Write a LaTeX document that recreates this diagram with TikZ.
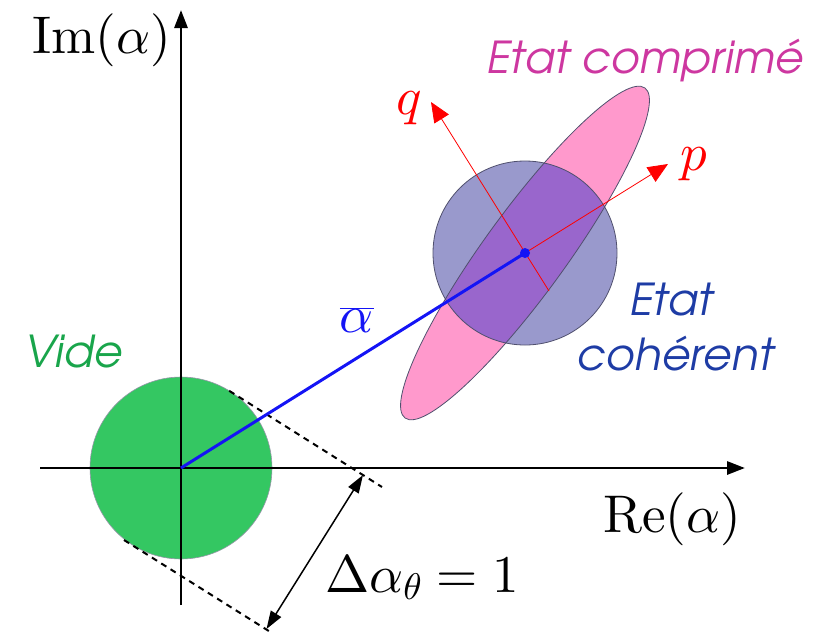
\documentclass[tikz,border=0pt]{standalone}
\usepackage[T1,TU]{fontenc}
\DeclareFontShape{OML}{cmm}{m}{it}{<->cmmi10}{}
\DeclareFontShape{OT1}{cmr}{m}{n}{<->cmr10}{}
\DeclareFontShape{OMS}{cmsy}{m}{n}{<->cmsy10}{}
\usetikzlibrary{arrows.meta}
\definecolor{vgreen}{RGB}{52,199,98}
\definecolor{vgreentext}{RGB}{25,165,75}
\definecolor{cohblue}{RGB}{153,153,204}
\definecolor{sqpink}{RGB}{255,153,204}
\definecolor{overlap}{RGB}{153,102,204}
\definecolor{comptext}{RGB}{205,55,160}
\definecolor{cohtext}{RGB}{30,60,165}
\definecolor{alphablue}{RGB}{20,20,245}
\definecolor{outline}{RGB}{80,80,110}
\tikzset{
  axisline/.style={line width=2.9pt,-{Triangle[length=18pt,width=13pt]}},
  tangentline/.style={line width=2pt,dash pattern=on 6pt off 5pt},
  dimarrow/.style={line width=1.5pt,{Triangle[length=18pt,width=12pt]}-{Triangle[length=18pt,width=12pt]}},
  quadarrow/.style={red,line width=0.8pt,-{Triangle[length=20pt,width=17pt]}},
  gothic/.style={inner sep=0pt,font=\fontencoding{T1}\fontfamily{pag}\fontseries{m}\fontshape{sl}\fontsize{44}{52}\selectfont},
  mathlabel/.style={inner sep=0pt,font=\fontsize{53}{60}\selectfont},
}
\begin{document}
\begin{tikzpicture}[x=1pt,y=-1pt]
\useasboundingbox (0,0) rectangle (830,638);
% key points
\coordinate (O) at (181,468);
\coordinate (C) at (525,253);
\coordinate (Xl) at (40,468);
\coordinate (Xr) at (745,468);
\coordinate (Yb) at (181,605);
\coordinate (Yt) at (181,10);
\coordinate (Tu1) at (229.2,390.8);
\coordinate (Tu2) at (382,487);
\coordinate (Tl1) at (124,540);
\coordinate (Tl2) at (272,633);
\coordinate (A1) at (363,475);
\coordinate (A2) at (266.5,629);
\coordinate (Qtip) at (431,102);
\coordinate (Qend) at (549,291);
\coordinate (Ptip) at (668,164);
% vacuum
\fill[vgreen] (O) circle[radius=91];
\draw[outline!60,line width=0.6pt] (O) circle[radius=91];
% axes
\draw[axisline] (Xl) -- (Xr);
\draw[axisline] (Yb) -- (Yt);
% tangent lines and width arrow
\draw[tangentline] (Tu1) -- (Tu2);
\draw[tangentline] (Tl1) -- (Tl2);
\draw[dimarrow] (A1) -- (A2);
% squeezed and coherent states
\fill[sqpink,rotate around={54:(C)}] (C) ellipse[x radius=204,y radius=41];
\fill[cohblue] (C) circle[radius=92];
\begin{scope}
  \clip[rotate around={54:(C)}] (C) ellipse[x radius=204,y radius=41];
  \fill[overlap] (C) circle[radius=92];
\end{scope}
\draw[outline,line width=0.8pt,rotate around={54:(C)}] (C) ellipse[x radius=204,y radius=41];
\draw[outline,line width=0.8pt] (C) circle[radius=92];
% quadrature axes
\draw[quadarrow] (Qend) -- (Qtip);
\draw[quadarrow] (C) -- (Ptip);
% displacement
\draw[alphablue,line width=3pt] (O) -- (C);
\fill[alphablue] (C) circle[radius=5];
% labels
\node[mathlabel,anchor=base west] (im) at (32,53) {$\mathrm{Im}(\alpha)$};
\node[mathlabel,anchor=base west] (re) at (603,532) {$\mathrm{Re}(\alpha)$};
\node[mathlabel,anchor=base west] (dth) at (325,592) {$\Delta\alpha_\theta = 1$};
\node[mathlabel,anchor=base,text=alphablue] (abar) at (357,332) {$\overline{\alpha}$};
\node[mathlabel,anchor=base west,text=red] (q) at (396,114) {$q$};
\node[mathlabel,anchor=base west,text=red] (p) at (680,170) {$p$};
\node[gothic,anchor=base west,text=vgreentext] (vide) at (23,367) {Vide};
\node[gothic,anchor=base west,text=comptext] (comp) at (485,73) {Etat comprim\'e};
\node[gothic,anchor=base,text=cohtext] (coh1) at (670,315) {Etat};
\node[gothic,anchor=base,text=cohtext] (coh2) at (674,370) {coh\'erent};
\end{tikzpicture}
\end{document}
